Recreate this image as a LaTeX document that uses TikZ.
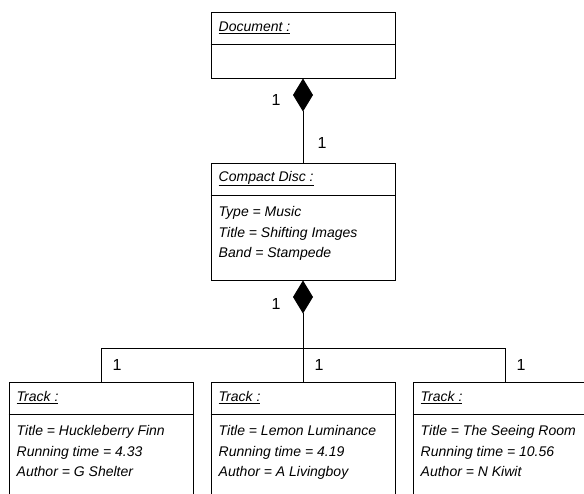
\documentclass[tikz,border=0pt]{standalone}
\usepackage{fontspec}
\setmainfont{Liberation Sans}
\usetikzlibrary{positioning,arrows.meta}

\tikzset{
  object/.style={draw, line width=1pt, minimum width=184pt, inner sep=0pt},
  objname/.style={anchor=west, inner sep=0pt, font=\fontsize{14}{16}\selectfont\itshape},
  objattr/.style={anchor=north west, align=left, inner sep=0pt, font=\fontsize{14}{20.5}\selectfont\itshape},
  mult/.style={font=\fontsize{16}{18}\selectfont, inner sep=0pt},
  compos/.style={{Diamond[length=33pt,width=20pt]}-, line width=1pt},
  link/.style={line width=1pt},
}

\begin{document}
\begin{tikzpicture}[x=1pt,y=-1pt,node distance=84pt]
\clip (0,0) rectangle (584,493);
% objects
\node[object, minimum height=66pt] (doc) at (303,45) {};
\node[object, minimum height=117pt, below=of doc] (cd) {};
\node[object, minimum height=117pt, below=101pt of cd] (trk2) {};
\node[object, minimum height=117pt, left=17pt of trk2] (trk1) {};
\node[object, minimum height=117pt, right=17pt of trk2] (trk3) {};

% object names and compartments
\foreach \o/\n in {doc/Document, cd/Compact Disc, trk1/Track, trk2/Track, trk3/Track}{
  \node[objname] (\o-name) at ([xshift=8pt,yshift=-16pt]\o.north west) {\underline{\n\ :}};
  \draw[link] ([yshift=-33pt]\o.north west) -- ([yshift=-33pt]\o.north east);
}

% attribute values
\node[objattr] (cd-attr) at ([xshift=8pt,yshift=-44pt]cd.north west)
  {Type = Music\\Title = Shifting Images\\Band = Stampede};
\node[objattr] (trk1-attr) at ([xshift=8pt,yshift=-44pt]trk1.north west)
  {Title = Huckleberry Finn\\Running time = 4.33\\Author = G Shelter};
\node[objattr] (trk2-attr) at ([xshift=8pt,yshift=-44pt]trk2.north west)
  {Title = Lemon Luminance\\Running time = 4.19\\Author = A Livingboy};
\node[objattr] (trk3-attr) at ([xshift=8pt,yshift=-44pt]trk3.north west)
  {Title = The Seeing Room\\Running time = 10.56\\Author = N Kiwit};

% compositions
\coordinate (fork) at ([yshift=-68pt]cd.south);
\draw[compos] (doc.south) -- node[mult, pos=0.26, left=22pt] {1}
  node[mult, pos=0.77, right=14pt] {1} (cd.north);
\draw[compos] (cd.south) -- node[mult, pos=0.35, left=22pt] {1} (fork);
\draw[link] (fork) -| node[mult, pos=0.75, right=11pt] {1} (trk1.north);
\draw[link] (fork) -- node[mult, midway, right=11pt] {1} (trk2.north);
\draw[link] (fork) -| node[mult, pos=0.75, right=11pt] {1} (trk3.north);
\end{tikzpicture}
\end{document}
